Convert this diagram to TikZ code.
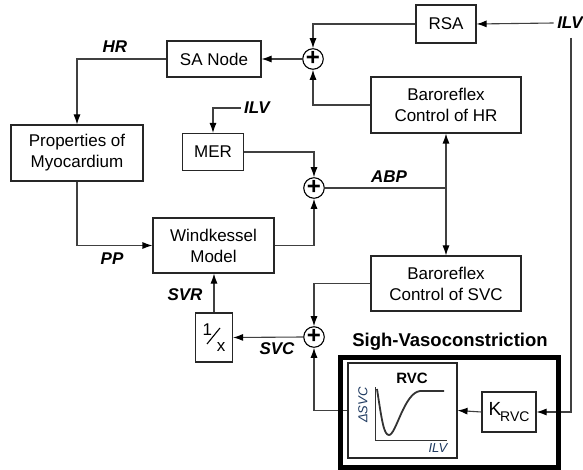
\documentclass[tikz,border=0pt]{standalone}
\usepackage{fontspec}
\setmainfont{Liberation Sans}
\usepackage{tikz}
\usetikzlibrary{arrows.meta,positioning}
\definecolor{linegray}{HTML}{404040}
\definecolor{plotnavy}{HTML}{1F3A60}

\begin{document}
\begin{tikzpicture}[x=1pt,y=-1pt, box/.style={draw=black!85,line width=1.1pt,align=center,inner sep=2pt,font=\fontsize{17}{21}\selectfont}, sum/.style={circle,draw=black,line width=1.1pt,minimum size=20pt,inner sep=0pt,font=\fontsize{24}{24}\selectfont\bfseries}, lbl/.style={font=\fontsize{17}{20}\selectfont\bfseries\itshape}, arrow/.style={-{Latex[length=10pt,width=7pt,color=black]},draw=linegray,line width=1.1pt}]
\useasboundingbox (0,0) rectangle (583,470);
\node[box,minimum width=60,minimum height=38] (rsa) at (446,24) {RSA};
\node[lbl] (ilvtop) at (570,23) {ILV};
\node[sum] (s1) at (313,59) {\raisebox{1pt}{+}};
\node[box,minimum width=94,minimum height=36] (sanode) at (214,59) {SA Node};
\node[lbl] (hr) at (115,47) {HR};
\node[box,minimum width=132,minimum height=56] (prop) at (77,153) {Properties of\\Myocardium};
\node[box,minimum width=150,minimum height=56] (bchr) at (446,105) {Baroreflex\\Control of HR};
\node[lbl] (ilvmer) at (257,108) {ILV};
\node[box,minimum width=61,minimum height=37] (mer) at (213,152) {MER};
\node[sum] (s2) at (314,188) {\raisebox{1pt}{+}};
\node[lbl] (abp) at (389,177) {ABP};
\node[box,minimum width=121,minimum height=55] (wind) at (213.5,245.5) {Windkessel\\Model};
\node[lbl] (pp) at (112,259) {PP};
\node[box,minimum width=150,minimum height=55] (bcsvc) at (446,283.5) {Baroreflex\\Control of SVC};
\node[sum] (s3) at (314,337) {\raisebox{1pt}{+}};
\node[lbl] (svc) at (277,349) {SVC};
\node[box,minimum width=37,minimum height=49,inner sep=0pt] (inv) at (214,337.5) {\fontsize{17}{17}\selectfont\raisebox{8pt}{1}\hspace{5pt}\raisebox{-8pt}{x}};
\draw[black,line width=1.1pt] (207,344) -- (220,328);
\node[lbl] (svr) at (185,295) {SVR};
\node[font=\fontsize{18.5}{20}\selectfont\bfseries] (sigh) at (450,342) {Sigh-Vasoconstriction};
\node[box,minimum width=109,minimum height=95] (rvc) at (402.5,410.5) {};
\node[font=\fontsize{15}{15}\selectfont\bfseries] (rvclbl) at (412,378) {RVC};
\node[rotate=90,text=plotnavy,font=\fontsize{13}{13}\selectfont\itshape] (dsvc) at (363,405) {ΔSVC};
\node[text=plotnavy,font=\fontsize{13}{13}\selectfont\itshape] (ilvplot) at (438,448) {ILV};
\draw[black!80,line width=1pt] (375,387) |- (447,440);
\draw[black!80,line width=1.8pt] (377,389) .. controls (382,422) and (384,435) .. (389,435) .. controls (396,435) and (404,393) .. (420,391) -- (444,391);
\node[box,minimum width=54,minimum height=40] (krvc) at (509,412) {\fontsize{19}{19}\selectfont K\kern-1pt\raisebox{-6pt}{\fontsize{14}{14}\selectfont RVC}};
\coordinate (abpj) at (bchr.south |- s2);
\coordinate (ilvdown) at (571,38);
\draw[arrow] (ilvtop.west) -- (rsa.east);
\draw[arrow] (rsa.west) -| (s1.north);
\draw[arrow] (s1.west) -- (sanode.east);
\draw[arrow] (sanode.west) -| (prop.north);
\draw[arrow] (bchr.west) -| (s1.south);
\draw[arrow] (ilvmer.west) -| (mer.north);
\draw[arrow] (mer.east) -| (s2.north);
\draw[arrow] (prop.south) |- (wind.west);
\draw[arrow] (wind.east) -| (s2.south);
\draw[draw=linegray,line width=1.1pt] (s2.east) -- (abpj);
\draw[arrow] (abpj) -- (bchr.south);
\draw[arrow] (abpj) -- (bcsvc.north);
\draw[arrow] (bcsvc.west) -| (s3.north);
\draw[arrow] (s3.west) -- (inv.east);
\draw[arrow] (inv.north) -- (inv.north |- wind.south);
\draw[arrow] (rvc.west) -| (s3.south);
\draw[arrow] (krvc.west) -- (rvc.east);
\draw[arrow] (ilvdown) |- (krvc.east);
\node[draw=black,line width=5pt,minimum width=218,minimum height=110] (sighbox) at (449,412) {};
\end{tikzpicture}
\end{document}
